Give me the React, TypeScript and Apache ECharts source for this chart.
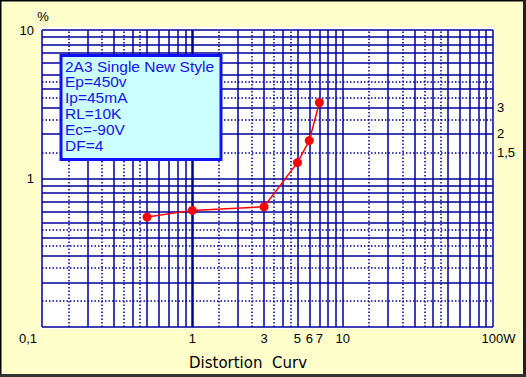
import React, { useEffect, useRef } from "react";
import * as echarts from "echarts";

// ---- data ----
const powerW = [0.5, 1, 3, 5, 6, 7];
const distortionPct = [0.55, 0.61, 0.645, 1.28, 1.8, 3.25];

// ---- tick labels ----
const xTickValues = [0.1, 1, 3, 5, 6, 7, 10, 100];
const yLeftTickValues = [1, 10];
const yRightTickValues = [1.5, 2, 3];

// ---- grid definition ----
const xDecades = [0.1, 1, 10];
const yDecades = [0.1, 1];
const solidMantissa = [1, 2, 3, 4, 5, 6, 7, 8, 9];
const dottedMantissa = [1.5, 2.5, 3.5, 4.5];

const boxLines = [
  "2A3 Single New Style",
  "Ep=450v",
  "Ip=45mA",
  "RL=10K",
  "Ec=-90V",
  "DF=4",
];

const GRID_COLOR = "#000099";
const FONT = "'Liberation Sans', Arial, sans-serif";

function round(v: number) {
  return parseFloat(v.toPrecision(6));
}

function buildGridLines() {
  const items: any[] = [];
  const solid = (w: number) => ({ color: GRID_COLOR, width: w, type: "solid" });
  const dotted = { color: GRID_COLOR, width: 1.5, type: [1.5, 2] };
  xDecades.forEach((d) => {
    solidMantissa.forEach((m) => {
      const v = round(m * d);
      items.push({ xAxis: v, lineStyle: solid(v === 1 ? 2.5 : 1.5) });
    });
    dottedMantissa.forEach((m) => items.push({ xAxis: round(m * d), lineStyle: dotted }));
  });
  items.push({ xAxis: 100, lineStyle: solid(1.5) });
  yDecades.forEach((d) => {
    solidMantissa.forEach((m) => items.push({ yAxis: round(m * d), lineStyle: solid(1.5) }));
    dottedMantissa.forEach((m) => items.push({ yAxis: round(m * d), lineStyle: dotted }));
  });
  items.push({ yAxis: 10, lineStyle: solid(1.5) });
  return items;
}

const near = (a: number, b: number) => Math.abs(a - b) < 1e-9 * Math.max(1, b);

export default function App() {
  const ref = useRef<HTMLDivElement>(null);
  useEffect(() => {
    if (!ref.current) return;
    const chart = echarts.init(ref.current, null, { renderer: "svg" });
    const labelStyle = { color: "#000", fontSize: 13, fontFamily: FONT };
    chart.setOption({
      animation: false,
      backgroundColor: "#ffffcc",
      grid: { left: 42, top: 30, width: 451, height: 297, containLabel: false },
      xAxis: {
        type: "log",
        logBase: 10,
        min: 0.1,
        max: 100,
        axisLine: { show: false },
        axisTick: { show: false },
        splitLine: { show: false },
        minorSplitLine: { show: false },
        axisLabel: {
          ...labelStyle,
          margin: 5,
          customValues: xTickValues,
          formatter: (v: number) => {
            if (near(v, 0.1)) return "{l|0,1}";
            if (near(v, 100)) return "{r|100W}";
            return String(round(v)).replace(".", ",");
          },
          rich: {
            l: { ...labelStyle, padding: [0, 28, 0, 0] },
            r: { ...labelStyle, padding: [0, 0, 0, 11] },
          },
        },
      },
      yAxis: [
        {
          type: "log",
          logBase: 10,
          min: 0.1,
          max: 10,
          position: "left",
          name: "%",
          nameLocation: "end",
          nameGap: 7,
          nameTextStyle: { ...labelStyle, padding: [0, 0, 0, 2] },
          axisLine: { show: false },
          axisTick: { show: false },
          splitLine: { show: false },
          axisLabel: {
            ...labelStyle,
            margin: 8,
            customValues: yLeftTickValues,
            formatter: (v: number) => String(round(v)).replace(".", ","),
          },
        },
        {
          type: "log",
          logBase: 10,
          min: 0.1,
          max: 10,
          position: "right",
          axisLine: { show: false },
          axisTick: { show: false },
          splitLine: { show: false },
          axisLabel: {
            ...labelStyle,
            margin: 4,
            customValues: yRightTickValues,
            formatter: (v: number) => String(round(v)).replace(".", ","),
          },
        },
      ],
      graphic: [
        {
          type: "rect",
          z: 0,
          shape: { x: 40, y: 27, width: 455, height: 302 },
          style: { fill: "#ffffff" },
        },
        {
          type: "group",
          z: 10,
          children: [
            {
              type: "rect",
              z: 10,
              shape: { x: 61, y: 55.5, width: 160, height: 104 },
              style: { fill: "#ccffff", stroke: "#1010ff", lineWidth: 3 },
            },
            ...boxLines.map((t, i) => ({
              type: "text",
              z: 11,
              x: 65,
              y: 66 + i * 15.9,
              style: {
                text: t,
                fill: "#1414e6",
                fontSize: 15.5,
                fontFamily: FONT,
                verticalAlign: "middle",
                align: "left",
              },
            })),
          ],
        },
        {
          type: "text",
          z: 10,
          x: 248,
          y: 363,
          style: {
            text: "Distortion  Curv",
            fill: "#000",
            fontSize: 15,
            fontFamily: "'DejaVu Sans', sans-serif",
            align: "center",
            verticalAlign: "middle",
          },
        },
        { type: "rect", z: 20, shape: { x: 0, y: 0, width: 526, height: 1.5 }, style: { fill: "#000" } },
        { type: "rect", z: 20, shape: { x: 0, y: 0, width: 1.5, height: 377 }, style: { fill: "#000" } },
        { type: "rect", z: 20, shape: { x: 523, y: 0, width: 3, height: 377 }, style: { fill: "#222" } },
        { type: "rect", z: 20, shape: { x: 0, y: 374, width: 526, height: 3 }, style: { fill: "#333" } },
      ],
      series: [
        {
          type: "line",
          name: "grid",
          z: 1,
          data: [],
          silent: true,
          markLine: {
            z: 1,
            silent: true,
            symbol: ["none", "none"],
            label: { show: false },
            emphasis: { disabled: true },
            animation: false,
            data: buildGridLines(),
          },
        },
        {
          type: "line",
          name: "distortion",
          z: 5,
          data: powerW.map((x, i) => [x, distortionPct[i]]),
          symbol: "circle",
          symbolSize: 9,
          lineStyle: { color: "#ff0000", width: 1.5 },
          itemStyle: { color: "#ff0000" },
        },
      ],
    });
    return () => chart.dispose();
  }, []);
  return (
    <div
      ref={ref}
      style={{ position: "absolute", left: 0, top: 0, width: 526, height: 377 }}
    />
  );
}
